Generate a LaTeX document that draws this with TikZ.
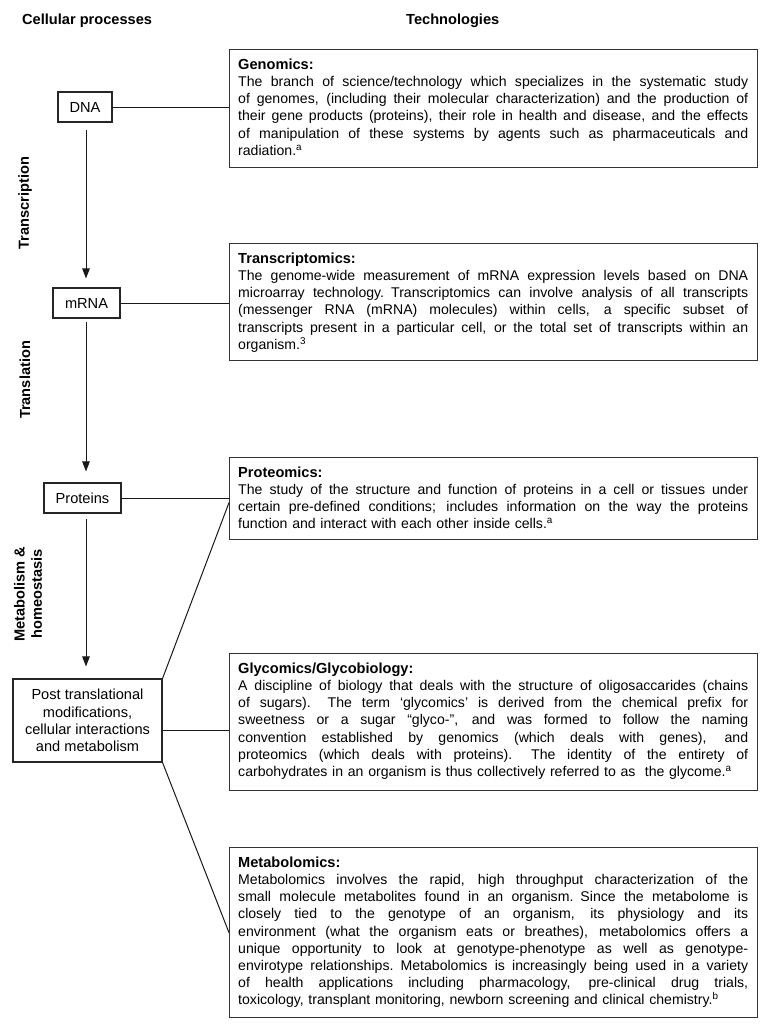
\documentclass[tikz,border=0pt]{standalone}
\usepackage{fontspec}
\setmainfont{Liberation Sans}
\usetikzlibrary{arrows.meta,calc}
\newcommand{\bfnt}{\fontsize{14.6pt}{17.2pt}\selectfont}
\newcommand{\txtfnt}{\fontsize{14.1pt}{17.2pt}\selectfont}
\newlength{\mybw}
\setlength{\mybw}{510pt}
\newcommand{\jl}[1]{\noindent\hbox to \mybw{\spaceskip=0.28em plus 1em minus 0.05em\relax #1}\par}
\newcommand{\lastl}[1]{\noindent\hbox{#1}\par}
\newcommand{\ttl}[1]{\noindent\hbox{\strut\fontsize{14.6pt}{17.2pt}\selectfont\bfseries #1}\par}
\tikzset{
  lbox/.style={draw=black!85, line width=1.1pt, inner sep=0pt, font=\bfnt, align=center},
  rframe/.style={draw=black!80, line width=1.3pt, anchor=north west, inner sep=0pt},
  btext/.style={anchor=north west, inner sep=0pt, text width=510pt, font=\txtfnt},
  conn/.style={draw=black!90, line width=1pt},
  arr/.style={conn, -{Triangle[width=7.5pt,length=10pt]}},
  vlabel/.style={font=\bfnt\bfseries, rotate=90, align=center, inner sep=0pt},
  header/.style={font=\bfnt\bfseries, anchor=base west, inner sep=0pt}
}
\begin{document}
\begin{tikzpicture}[x=1pt,y=-1pt]
\useasboundingbox (0,0) rectangle (765,1025);
% headers
\node[header] (h1) at (22,25) {Cellular processes};
\node[header] (h2) at (406,25) {Technologies};
% left boxes
\node[lbox, minimum width=54pt, minimum height=30pt] (dna) at (85,107) {DNA};
\node[lbox, minimum width=67pt, minimum height=30pt] (mrna) at (86.5,303) {mRNA};
\node[lbox, minimum width=77pt, minimum height=30pt] (prot) at (82.5,498) {Proteins};
\node[lbox, minimum width=149pt, minimum height=83pt] (post) at (87.5,720.5)
  {Post translational\\modifications,\\cellular interactions\\and metabolism};
\coordinate (axis) at (86,0);
% vertical labels
\node[vlabel] (lt1) at (25,203) {Transcription};
\node[vlabel] (lt2) at (25,380) {Translation};
\node[vlabel] (lt3) at (28,594) {Metabolism \&\\homeostasis};
% right frames
\node[rframe, minimum width=528pt, minimum height=118pt] (gen) at (229,49) {};
\node[rframe, minimum width=528pt, minimum height=117pt] (tra) at (229,243) {};
\node[rframe, minimum width=528pt, minimum height=82pt] (pro) at (229,457) {};
\node[rframe, minimum width=528pt, minimum height=137pt] (gly) at (229,653) {};
\node[rframe, minimum width=528pt, minimum height=170pt] (met) at (229,847) {};
% texts
\node[btext] (gent) at ($(gen.north west)+(9,8)$) {%
\ttl{Genomics:}
\jl{The branch of science/technology which specializes in the systematic study}
\jl{of genomes, (including their molecular characterization) and the production of}
\jl{their gene products (proteins), their role in health and disease, and the effects}
\jl{of manipulation of these systems by agents such as pharmaceuticals and}
\lastl{radiation.\textsuperscript{a}}};
\node[btext] (trat) at ($(tra.north west)+(9,8)$) {%
\ttl{Transcriptomics:}
\jl{The genome-wide measurement of mRNA expression levels based on DNA}
\jl{microarray technology. Transcriptomics can involve analysis of all transcripts}
\jl{(messenger RNA (mRNA) molecules) within cells, a specific subset of}
\jl{transcripts present in a particular cell, or the total set of transcripts within an}
\lastl{organism.\textsuperscript{3}}};
\node[btext] (prot2) at ($(pro.north west)+(9,8)$) {%
\ttl{Proteomics:}
\jl{The study of the structure and function of proteins in a cell or tissues under}
\jl{certain pre-defined conditions; includes information on the way the proteins}
\lastl{function and interact with each other inside cells.\textsuperscript{a}}};
\node[btext] (glyt) at ($(gly.north west)+(9,8)$) {%
\ttl{Glycomics/Glycobiology:}
\jl{A discipline of biology that deals with the structure of oligosaccarides (chains}
\jl{of sugars). \ The term ‘glycomics’ is derived from the chemical prefix for}
\jl{sweetness or a sugar “glyco-”, and was formed to follow the naming}
\jl{convention established by genomics (which deals with genes), and}
\jl{proteomics (which deals with proteins). \ The identity of the entirety of}
\lastl{carbohydrates in an organism is thus collectively referred to as \ the glycome.\textsuperscript{a}}};
\node[btext] (mett) at ($(met.north west)+(9,8)$) {%
\ttl{Metabolomics:}
\jl{Metabolomics involves the rapid, high throughput characterization of the}
\jl{small molecule metabolites found in an organism. Since the metabolome is}
\jl{closely tied to the genotype of an organism, its physiology and its}
\jl{environment (what the organism eats or breathes), metabolomics offers a}
\jl{unique opportunity to look at genotype-phenotype as well as genotype-}
\jl{envirotype relationships. Metabolomics is increasingly being used in a variety}
\jl{of health applications including pharmacology, pre-clinical drug trials,}
\lastl{toxicology, transplant monitoring, newborn screening and clinical chemistry.\textsuperscript{b}}};
% arrows
\draw[arr, shorten <=7pt, shorten >=9pt] (dna.south -| axis) -- (mrna.north -| axis);
\draw[arr, shorten <=3pt, shorten >=11pt] (mrna.south -| axis) -- (prot.north -| axis);
\draw[arr, shorten <=5pt, shorten >=12pt] (prot.south -| axis) -- (post.north -| axis);
% connectors
\draw[conn] (dna.east) -- (dna.east -| gen.west);
\draw[conn] (mrna.east) -- (mrna.east -| tra.west);
\draw[conn] (prot.east) -- (prot.east -| pro.west);
\coordinate (pe) at ($(post.east)+(0,9.5)$);
\draw[conn] (pe) -- (pe -| gly.west);
\coordinate (pw) at ($(pro.west)+(0,4)$);
\draw[conn] (post.north east) -- (pw);
\draw[conn] (post.south east) -- (met.west);
\end{tikzpicture}
\end{document}
